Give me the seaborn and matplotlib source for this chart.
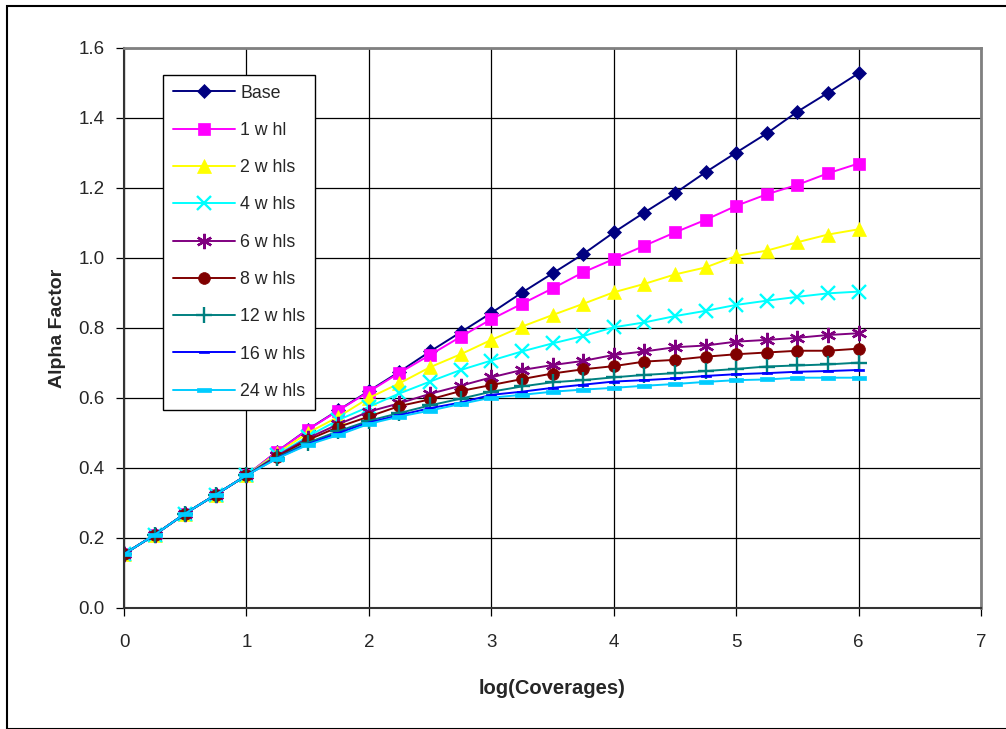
import matplotlib
matplotlib.use("Agg")
import matplotlib.pyplot as plt
import numpy as np
import pandas as pd
import seaborn as sns
from matplotlib.patches import Rectangle

log_cov = [0, 0.25, 0.5, 0.75, 1, 1.25, 1.5, 1.75, 2, 2.25, 2.5, 2.75, 3,
           3.25, 3.5, 3.75, 4, 4.25, 4.5, 4.75, 5, 5.25, 5.5, 5.75, 6]

start = [0.154, 0.209, 0.270, 0.324, 0.379]

base = start + [0.447, 0.510, 0.565, 0.620, 0.675, 0.733, 0.788, 0.843, 0.901, 0.956,
                1.011, 1.073, 1.130, 1.185, 1.245, 1.301, 1.356, 1.418, 1.472, 1.528]
w1 = start + [0.447, 0.509, 0.564, 0.618, 0.672, 0.723, 0.775, 0.825, 0.869, 0.913,
              0.959, 0.997, 1.035, 1.073, 1.109, 1.149, 1.182, 1.209, 1.242, 1.270]
w2 = start + [0.442, 0.500, 0.546, 0.600, 0.642, 0.688, 0.725, 0.766, 0.804, 0.837,
              0.869, 0.902, 0.926, 0.953, 0.973, 1.006, 1.021, 1.045, 1.067, 1.082]
w4 = start + [0.437, 0.490, 0.537, 0.575, 0.613, 0.647, 0.680, 0.707, 0.733, 0.756,
              0.777, 0.802, 0.816, 0.834, 0.849, 0.866, 0.878, 0.889, 0.899, 0.904]
w6 = start + [0.435, 0.485, 0.525, 0.561, 0.585, 0.612, 0.635, 0.659, 0.680, 0.694,
              0.706, 0.723, 0.733, 0.745, 0.750, 0.761, 0.766, 0.772, 0.780, 0.785]
w8 = start + [0.432, 0.480, 0.517, 0.547, 0.577, 0.596, 0.620, 0.637, 0.654, 0.670,
              0.682, 0.691, 0.704, 0.709, 0.718, 0.725, 0.730, 0.735, 0.735, 0.741]
w12 = start + [0.430, 0.472, 0.505, 0.535, 0.557, 0.579, 0.598, 0.618, 0.633, 0.645,
               0.651, 0.659, 0.666, 0.671, 0.677, 0.683, 0.690, 0.693, 0.696, 0.701]
w16 = start + [0.428, 0.468, 0.500, 0.530, 0.551, 0.571, 0.587, 0.609, 0.618, 0.629,
               0.638, 0.647, 0.651, 0.656, 0.663, 0.668, 0.671, 0.675, 0.677, 0.680]
w24 = start + [0.427, 0.466, 0.494, 0.526, 0.547, 0.564, 0.583, 0.601, 0.609, 0.618,
               0.624, 0.629, 0.635, 0.640, 0.646, 0.651, 0.653, 0.658, 0.658, 0.658]

labels = ['Base', '1 w hl', '2 w hls', '4 w hls', '6 w hls', '8 w hls',
          '12 w hls', '16 w hls', '24 w hls']
series = [base, w1, w2, w4, w6, w8, w12, w16, w24]
colors = ['#000080', '#FF00FF', '#FFFF00', '#00FFFF', '#800080', '#800000',
          '#008080', '#0000FF', '#00CCFF']

dash = [(-1, -0.3), (1, -0.3), (1, 0.3), (-1, 0.3), (-1, -0.3)]
markers = ['D', 's', '^', 'x', (6, 2, 0), 'o', '+', dash, dash]
msizes = [7.5, 8.5, 9.5, 9.5, 11, 8.5, 11, 6.5, 9.5]

sns.set_style('white')
plt.rcParams['font.family'] = ['Liberation Sans', 'DejaVu Sans']

fig = plt.figure(figsize=(10.06, 7.29), dpi=100)
ax = fig.add_axes([124 / 1006, 1 - 608 / 729, 857 / 1006, 560 / 729])

for lab, vals, col, mk, ms in zip(labels, series, colors, markers, msizes):
    filled = mk not in ('x', '+') and not isinstance(mk, tuple)
    sns.lineplot(x=log_cov, y=vals, ax=ax, color=col, label=lab,
                 marker=mk, markersize=ms, linewidth=1.4,
                 markerfacecolor=col, markeredgecolor=col,
                 markeredgewidth=1.7 if not filled else 0.5)

ax.set_xlim(0, 7)
ax.set_ylim(0, 1.6)
ax.set_xticks(range(0, 8))
ax.set_yticks(np.arange(0, 1.61, 0.2))
ax.set_yticklabels([f'{v:.1f}' for v in np.arange(0, 1.61, 0.2)])
ax.grid(True, color='black', linewidth=0.9)
ax.set_axisbelow(True)
ax.tick_params(axis='both', direction='out', length=6, width=0.9, color='black',
               labelsize=13.5, pad=8, left=True, bottom=True)
ax.tick_params(axis='x', pad=13)

for side in ['top', 'right']:
    ax.spines[side].set_color('#808080')
    ax.spines[side].set_linewidth(2)
for side in ['left', 'bottom']:
    ax.spines[side].set_color('#333333')
    ax.spines[side].set_linewidth(1.5)

ax.set_xlabel('log(Coverages)', fontsize=14.5, fontweight='bold', labelpad=20)
ax.set_ylabel('Alpha Factor', fontsize=14, fontweight='bold', labelpad=9)

leg = ax.legend(loc='upper left', bbox_to_anchor=(0.0455, 0.952), fontsize=12.8,
                frameon=True, fancybox=False, framealpha=1, edgecolor='black',
                borderpad=0.55, labelspacing=1.14, handlelength=3.5,
                handletextpad=0.3, borderaxespad=0)
leg.get_frame().set_linewidth(1.0)

fig.patches.append(Rectangle((7 / 1006, 0), 1.2, 1 - 6 / 729, transform=fig.transFigure,
                             fill=False, edgecolor='black', linewidth=1.5))

fig.savefig('out.png', dpi=100)
